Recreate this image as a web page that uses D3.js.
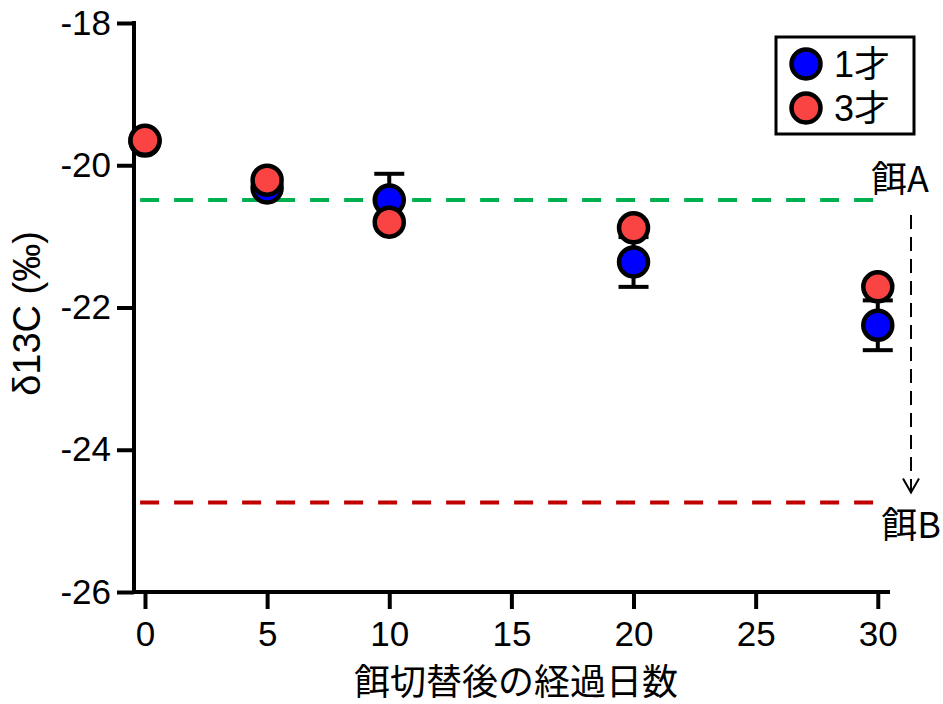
<!DOCTYPE html>
<html>
<head>
<meta charset="utf-8">
<script src="https://cdn.jsdelivr.net/npm/d3@7"></script>
<style>
  body { margin: 0; background: #fff; }
  text { font-family: "Liberation Sans", Arial, "Noto Sans CJK JP", sans-serif; fill: #000; }
</style>
</head>
<body>
<div id="chart"></div>
<script>
// data
const days = [0, 5, 10, 20, 30]
const age1Mean = [-19.66, -20.32, -20.49, -21.36, -22.25]
const age1Err  = [0.05, 0.06, 0.37, 0.35, 0.35]
const age3Mean = [-19.65, -20.21, -20.80, -20.88, -21.71]
const age3Err  = [0.05, 0.05, 0.05, 0.05, 0.06]
const seriesNames = ["1才", "3才"]
const seriesColors = ["#0000ff", "#fa4444"]
const feedA = -20.49
const feedB = -24.74
const xTicks = [0, 5, 10, 15, 20, 25, 30]
const yTicks = [-18, -20, -22, -24, -26]

const W = 943, H = 704
const svg = d3.select("#chart").append("svg")
  .attr("width", W).attr("height", H)

let x = d3.scaleLinear().domain([-0.45, 30.5]).range([134, 890])
let y = d3.scaleLinear().domain([-26, -18]).range([592, 23])

const numFont = "Liberation Sans, Arial, sans-serif"
const cjkFont = "Noto Sans CJK JP, sans-serif"

// Y axis
let yAxis = svg.append("g")
  .attr("transform", "translate(134,0)")
  .call(d3.axisLeft(y).tickValues(yTicks).tickSize(17).tickPadding(6).tickFormat(d => d))
yAxis.select(".domain").attr("stroke-width", 4).attr("d", `M0,${y(-18) - 2}V${y(-26) + 2}`)
yAxis.selectAll(".tick line").attr("stroke-width", 4)
yAxis.selectAll(".tick text").attr("font-size", 35).style("font-family", numFont)

// X axis
let xAxis = svg.append("g")
  .attr("transform", "translate(0,592)")
  .call(d3.axisBottom(x).tickValues(xTicks).tickSize(17).tickPadding(12))
xAxis.select(".domain").attr("stroke-width", 4).attr("d", `M${x.range()[0]},0H${x.range()[1]}`)
xAxis.selectAll(".tick line").attr("stroke-width", 4)
xAxis.selectAll(".tick text").attr("font-size", 35).style("font-family", numFont)

// axis labels
svg.append("text")
  .attr("transform", `translate(30,${(y(-18) + y(-26)) / 2 + 6}) rotate(-90)`)
  .attr("text-anchor", "middle")
  .attr("dominant-baseline", "middle")
  .attr("font-size", 38)
  .style("font-family", numFont)
  .text("δ13C (‰)")

svg.append("text")
  .attr("x", 516).attr("y", 695)
  .attr("text-anchor", "middle")
  .attr("font-size", 36)
  .style("font-family", cjkFont)
  .text("餌切替後の経過日数")

// reference lines for feed A and B
svg.append("line")
  .attr("x1", x(-0.2)).attr("x2", x(29.9))
  .attr("y1", y(feedA)).attr("y2", y(feedA))
  .attr("stroke", "#00b050").attr("stroke-width", 4)
  .attr("stroke-dasharray", "19,15")
svg.append("line")
  .attr("x1", x(-0.2)).attr("x2", x(29.9))
  .attr("y1", y(feedB)).attr("y2", y(feedB))
  .attr("stroke", "#c00000").attr("stroke-width", 4)
  .attr("stroke-dasharray", "19,15")

svg.append("text")
  .attr("x", 900).attr("y", y(feedA) - 8)
  .attr("text-anchor", "middle")
  .attr("font-size", 36)
  .style("font-family", cjkFont)
  .text("餌A")
svg.append("text")
  .attr("x", 911).attr("y", y(feedB) + 36)
  .attr("text-anchor", "middle")
  .attr("font-size", 36)
  .style("font-family", cjkFont)
  .text("餌B")

// dashed arrow A -> B
svg.append("line")
  .attr("x1", 911).attr("x2", 911)
  .attr("y1", y(feedA) + 15).attr("y2", y(feedB) - 10)
  .attr("stroke", "#000").attr("stroke-width", 2)
  .attr("stroke-dasharray", "14,8")
svg.append("line")
  .attr("x1", 911).attr("x2", 911)
  .attr("y1", y(feedB) - 20).attr("y2", y(feedB) - 10)
  .attr("stroke", "#000").attr("stroke-width", 2)
svg.append("path")
  .attr("d", `M903,${y(feedB) - 24} L911,${y(feedB) - 10} L919,${y(feedB) - 24}`)
  .attr("fill", "none").attr("stroke", "#000").attr("stroke-width", 2)

// points + error bars
const series = [
  { name: seriesNames[0], color: seriesColors[0], mean: age1Mean, err: age1Err },
  { name: seriesNames[1], color: seriesColors[1], mean: age3Mean, err: age3Err }
]

series.forEach(function(s) {
  let pts = days.map((d, i) => ({ day: d, m: s.mean[i], e: s.err[i] }))
  let g = svg.append("g")
  g.selectAll("line.bar").data(pts).enter().append("line")
    .attr("x1", d => x(d.day)).attr("x2", d => x(d.day))
    .attr("y1", d => y(d.m + d.e)).attr("y2", d => y(d.m - d.e))
    .attr("stroke", "#000").attr("stroke-width", 4)
  g.selectAll("line.capTop").data(pts).enter().append("line")
    .attr("x1", d => x(d.day) - 15).attr("x2", d => x(d.day) + 15)
    .attr("y1", d => y(d.m + d.e)).attr("y2", d => y(d.m + d.e))
    .attr("stroke", "#000").attr("stroke-width", 4)
  g.selectAll("line.capBot").data(pts).enter().append("line")
    .attr("x1", d => x(d.day) - 15).attr("x2", d => x(d.day) + 15)
    .attr("y1", d => y(d.m - d.e)).attr("y2", d => y(d.m - d.e))
    .attr("stroke", "#000").attr("stroke-width", 4)
  g.selectAll("circle").data(pts).enter().append("circle")
    .attr("cx", d => x(d.day)).attr("cy", d => y(d.m))
    .attr("r", 14.5)
    .attr("fill", s.color)
    .attr("stroke", "#000").attr("stroke-width", 4.5)
})

// legend
let lg = svg.append("g")
lg.append("rect")
  .attr("x", 776).attr("y", 37).attr("width", 138).attr("height", 97)
  .attr("fill", "#fff").attr("stroke", "#000").attr("stroke-width", 3)
series.forEach(function(s, i) {
  lg.append("circle")
    .attr("cx", 806).attr("cy", 64 + i * 44)
    .attr("r", 14.5)
    .attr("fill", s.color).attr("stroke", "#000").attr("stroke-width", 4.5)
  lg.append("text")
    .attr("x", 834).attr("y", 64 + i * 44 + 13)
    .attr("font-size", 36)
    .style("font-family", "Liberation Sans, Noto Sans CJK JP, sans-serif")
    .text(s.name)
})
</script>
</body>
</html>
